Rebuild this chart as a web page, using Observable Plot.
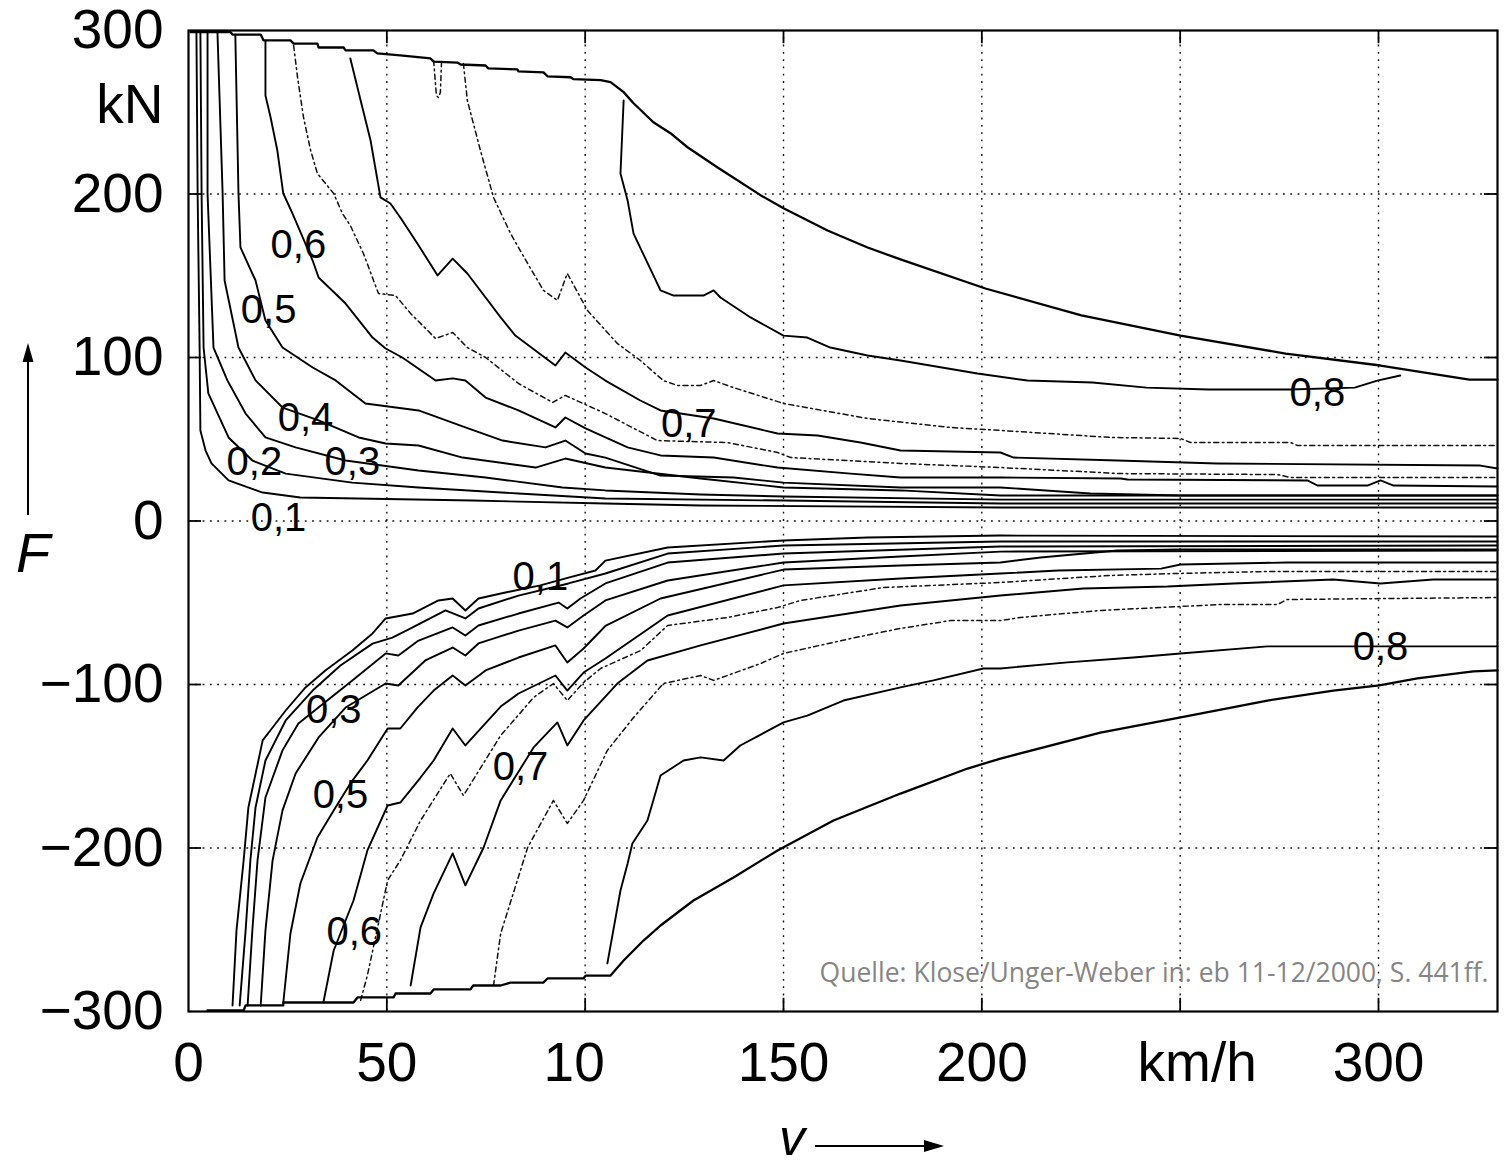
<!DOCTYPE html>
<html>
<head>
<meta charset="utf-8">
<script src="https://cdn.jsdelivr.net/npm/d3@7"></script>
<script src="https://cdn.jsdelivr.net/npm/@observablehq/plot@0.6"></script>
<style>
  html, body { margin: 0; padding: 0; background: #fff; }
  #chart svg { display: block; }
</style>
</head>
<body>
<div id="chart"></div>
<script>
// ---------- axes ----------
const xDomain = [0, 330];           // v in km/h
const yDomain = [-300, 300];        // F in kN
const xGrid = [50, 100, 150, 200, 250, 300];
const yGrid = [-200, -100, 0, 100, 200];
const xTickVals = [0, 50, 100, 150, 200, 250, 300];
const xTickLabels = ["0", "50", "10", "150", "200", "km/h", "300"];
const yTickVals = [300, 254, 200, 100, 0, -100, -200, -300];
const yTickLabels = ["300", "kN", "200", "100", "0", "\u2212100", "\u2212200", "\u2212300"];

// ---------- traction half (F > 0): [v, F] ----------
const topEnvelope = [[0.5,299],[10.6,299],[11.1,297.5],[18.2,297.5],[18.9,294],[25.7,294],[26.5,292],[32.5,292],[32.8,289.6],[39.1,289.6],[39.6,287.8],[46.6,287.8],[47.6,286],[53.4,284.8],[61,282.9],[61.8,281],[67.8,280.4],[68.6,279.2],[74.9,278.6],[75.6,276.8],[82.9,276.2],[83.2,275],[89.5,274.4],[90.5,272],[96.3,271.4],[97.1,270.2],[103.9,269.6],[106.4,268.4],[109.7,262.3],[112.2,255.5],[117.2,243.9],[121.5,237.2],[125.8,228.6],[133.3,216.4],[144.2,199.3],[150,191.3],[161.1,177.7],[171.2,167.3],[179.5,160],[200.9,142.2],[225.1,125.7],[250.1,113.4],[276.6,102.4],[300.5,95.1],[322.9,86.5],[330,86.5]];
const top01 = [[2,299.4],[2.3,200.3],[2.8,106.1],[3,55.4],[4.3,43.1],[5.8,35.2],[10.1,24.8],[18.7,17.4],[28.2,14.4],[71.6,12.5],[105.1,10.7],[129.1,9.5],[204.7,8.3],[330,8.3]];
const top02 = [[3,298.8],[3.3,200.3],[3.8,106.1],[5,78],[10.1,51.1],[16.1,37],[24.5,29],[41.3,23.5],[58,20.5],[83.2,16.8],[105.1,13.8],[150,12.5],[204.7,10.7],[330,10.7]];
const top03 = [[4.8,298.8],[4.8,200.3],[6.3,106.1],[9.8,86],[14.4,65.7],[19.4,51.1],[27,45],[39.6,37],[58,30.9],[74.9,26.6],[94.3,20.5],[105.1,18.7],[129.1,16.2],[150,15],[204.7,13.1],[330,13.1]];
const top04 = [[7.3,298.8],[8.6,200.3],[9.1,147.1],[12.6,106.1],[16.9,86],[23.7,69.4],[32.8,61.5],[42.9,51.1],[49.7,47.4],[58,46.2],[69.1,38.8],[87.5,32.7],[95,38.2],[105.1,32.7],[129.1,26],[150,20.5],[179.5,18.7],[204.7,15.6],[330,15.6]];
const top05 = [[11.8,297.5],[12.6,200.3],[13.1,167.3],[16.9,147.1],[19.4,122.6],[23.7,106.1],[31.3,93.9],[37.1,86],[44.6,71.9],[58,67.6],[69.8,57.2],[79.2,49.2],[90,45],[95,49.2],[100.1,41.3],[105.1,38.8],[119,27.8],[137.4,26.6],[150,23.5],[179.5,20.5],[204.7,20.5],[227.4,16.8],[250.1,15.6],[330,15.6]];
const top06 = [[19.4,293.6],[19.4,260.2],[20.7,246.8],[22.4,226.6],[23.9,200.3],[26.2,188.1],[31.3,159.3],[32.8,148.9],[39.6,133],[46.4,112.2],[49.7,105.5],[53.9,100],[62.3,85.9],[66.6,87.2],[69.8,85.9],[74.9,75.5],[83.2,67.6],[92.5,57.2],[95,63.3],[100.1,56.6],[110.7,45],[119,40.1],[132.4,38.8],[148.5,32.7],[166.9,29],[179.5,26.6],[204.7,26.6],[235,26],[236.7,25.4],[282.1,24.8],[284.6,21.7],[297.2,21.7],[300.5,24.8],[303.8,21.7],[330,21.1]];
const top065 = [[26.5,290.8],[27.5,271.2],[29,246.8],[30.8,226.6],[32.5,212.5],[36.6,200.3],[38.8,188.1],[40.8,180.7],[44.1,163.6],[47.9,139.1],[52.2,137.9],[56,126.9],[62.3,111.6],[66.6,115.3],[70.3,106.1],[74.9,100],[83.2,84.1],[91.8,72.5],[95,76.8],[105.1,65.7],[118.2,49.2],[135.9,48],[148.5,41.9],[151.8,38.8],[179.5,35.2],[204.7,32.7],[235,29],[274.5,28.4],[277.8,26.6],[330,26.6]];
const top07 = [[40.8,282.9],[43.4,257.2],[45.9,232.7],[48.4,197.9],[50.9,194.2],[53.4,185.6],[57.7,169.7],[62.8,150.2],[66.6,160.5],[70.3,151.4],[74.9,136.7],[78.7,124.5],[82.4,113.4],[92.5,95.1],[95,103],[100.1,93.9],[105.1,85.9],[113.9,73.7],[119,67.6],[132.4,62.7],[148.5,53.5],[158.6,52.3],[169.4,48],[179.5,43.1],[204.7,41.9],[208,38.8],[234.2,37],[259.4,35.2],[325.7,33.9],[330,32.1]];
const top075 = [[69.3,279.8],[70.3,257.2],[73.6,226.6],[76.9,197.9],[81.2,175.8],[85.5,157.5],[89.5,141],[93,134.9],[95.5,151.4],[100.6,128.7],[108.1,108.6],[113.9,98.2],[119.7,85.9],[123.3,82.9],[129.1,82.9],[132.4,85.9],[137.4,81.6],[150,71.9],[171.2,62.7],[192.1,57.2],[204.7,55.4],[232.4,51.1],[250.1,50.5],[252.6,48],[277.8,48],[279.6,46.2],[330,46.2]];
const topIsland = [[61.8,281.6],[62.5,260.2],[63,259],[63.5,262.1],[63.8,281.6]];
const top08 = [[109.7,257.2],[108.9,212.5],[110.7,196],[112.2,175.8],[119,141],[122.3,137.9],[129.8,137.9],[132.4,141],[134.1,136.7],[141.7,124.5],[150,113.4],[156,112.2],[161.8,106.1],[171.2,101.2],[179.5,98.2],[198.9,90.2],[211.5,85.9],[227.9,84.7],[241.5,81.6],[257.1,80.4],[277.8,80.4],[294,81.6],[299.7,85.9],[305.5,89]];

// ---------- braking half (F < 0): [v, F] ----------
const bottomEnvelope = [[4.8,-299.4],[13.9,-299.4],[14.4,-296.3],[23.9,-296.3],[23.9,-294.5],[41.6,-294.5],[42.6,-291.4],[51.7,-291.4],[52.2,-289],[61,-289],[61.8,-286.5],[71.1,-286.5],[71.8,-284.1],[78.7,-284.1],[81.2,-282.3],[89.5,-282.3],[90.5,-279.8],[99.6,-279.8],[100.1,-278],[106.4,-278],[109.7,-268.8],[114.7,-256.6],[119,-247.4],[127.3,-232.1],[137.4,-218],[148.5,-201.5],[162.6,-183.2],[179.5,-166.7],[196.4,-151.4],[204.7,-145.3],[229.9,-129.4],[249.8,-120.2],[272,-109.8],[288.6,-103.7],[300.2,-100.6],[309.8,-96.3],[323.9,-92],[330,-91.4]];
const bot01 = [[11.1,-296.3],[12.1,-250.4],[13.9,-207.6],[15.1,-175.2],[18.7,-134.2],[21.2,-126.3],[24.5,-115.9],[29.5,-101.8],[34.5,-91.4],[41.3,-79.2],[46.4,-68.8],[49.7,-59.6],[56.5,-56.6],[63,-48.6],[66.6,-47.4],[69.8,-54.7],[73.1,-47.4],[79.9,-43.7],[88.7,-39.4],[95.8,-34.6],[102.6,-30.3],[105.1,-24.2],[120.8,-16.2],[150,-11.9],[171.2,-10.1],[204.7,-8.9],[330,-9.5]];
const bot02 = [[12.9,-296.3],[14.4,-250.4],[15.6,-207.6],[16.9,-175.2],[19.4,-146.5],[24.5,-122],[31.3,-103.7],[38.3,-88.4],[46.4,-75],[51.4,-71.3],[56.5,-65.1],[64.8,-54.7],[69.8,-59.6],[73.1,-53.5],[83.2,-45.6],[95.8,-38.2],[105.1,-32.1],[120.8,-19.9],[150,-15],[204.7,-12.5],[330,-12.5]];
const bot03 = [[14.9,-296.3],[16.1,-250.4],[17.4,-207.6],[19.4,-169.1],[23.7,-140.3],[27.7,-123.8],[41.3,-97.5],[49.7,-81],[52.9,-82.3],[58,-73.1],[66.6,-65.1],[69.8,-70],[73.1,-63.9],[83.2,-56.6],[93.3,-49.9],[95.5,-53.5],[98.8,-47.4],[105.1,-38.2],[120.8,-25.4],[150,-19.9],[204.7,-15.6],[330,-15]];
const bot04 = [[18.2,-296.3],[19.4,-250.4],[21.2,-207.6],[23.7,-177],[27,-154.4],[32.8,-132.4],[39.6,-114.1],[49.7,-99.4],[52.9,-100.6],[59.7,-85.3],[66.6,-77.4],[69.8,-82.3],[73.1,-74.9],[83.2,-67],[92.5,-60.9],[95.5,-65.1],[99.6,-57.8],[105.1,-48.6],[120.8,-36.4],[150,-25.4],[179.5,-21.7],[204.7,-18.7],[330,-18.1]];
const bot05 = [[23.9,-294.5],[25.7,-252.3],[28.2,-221.7],[32.5,-193.6],[36.6,-177],[40.8,-160.5],[45.1,-146.5],[50.2,-126.9],[53.4,-126.9],[57.7,-114.1],[61.8,-103.7],[66.6,-94.5],[69.8,-100.6],[74.9,-91.4],[83.2,-83.5],[92.5,-76.1],[95.5,-86.5],[99.6,-78],[105.1,-64.2],[119,-47.4],[150,-29.7],[179.5,-27.2],[204.7,-25.4],[214.8,-22.3],[234.2,-18],[250.1,-17.4],[330,-17.4]];
const bot06 = [[34,-294.5],[36.6,-262.7],[41.6,-232.1],[45.1,-201.5],[50.2,-174],[53.4,-172.2],[58.5,-156.9],[61.8,-146.5],[66.6,-126.9],[69.8,-137.3],[78.7,-113.5],[83.2,-105.5],[92.5,-94.5],[95.5,-103.7],[99.6,-92.7],[105.1,-84.1],[120.8,-57.8],[150,-39.4],[179.5,-35.2],[204.7,-32.1],[219.2,-30.3],[245.2,-29.1],[250.1,-26.6],[277,-25.4],[330,-25.4]];
const bot065 = [[43.4,-293.2],[45.1,-277.9],[50.2,-219.8],[53.4,-207.6],[58.5,-183.2],[66,-154.4],[69.3,-167.9],[78.7,-131.2],[87,-107.9],[92,-99.4],[95.5,-109.8],[99.6,-98.8],[103.9,-90.2],[114,-79.2],[120.8,-63.9],[135.9,-59],[148.5,-52.9],[154.3,-48.6],[175.2,-40.7],[204.7,-37.6],[232.4,-33.3],[249.3,-32.1],[272,-30.9],[330,-30.9]];
const bot07 = [[56,-284.1],[58.5,-248.6],[61.8,-227.8],[66.6,-203.3],[69.8,-222.9],[74.4,-199.7],[78.7,-170.9],[87,-138.5],[93,-123.2],[95.5,-137.3],[99.6,-122],[108.1,-99.4],[115.7,-85.3],[129.1,-76.1],[150,-62.7],[179.5,-51.7],[204.7,-45.6],[225.6,-41.3],[246.8,-40.1],[263.4,-38.2],[288.6,-35.8],[300.5,-38.2],[313.8,-35.8],[330,-35.8]];
const bot075 = [[76.9,-284.1],[78.7,-252.3],[85.5,-199.7],[92,-170.9],[95.5,-185],[99.6,-170.9],[105.6,-140.3],[112.2,-120.2],[119.7,-99.4],[129.1,-94.5],[132.4,-97.5],[144.2,-87.2],[150,-81],[166.9,-71.9],[179.5,-65.7],[192.1,-60.9],[204.7,-60.9],[209.7,-59],[229.9,-54.7],[245,-52.9],[260.1,-51.1],[274.5,-51.1],[277,-48],[330,-46.8]];
const bot08 = [[105.6,-270.6],[108.9,-226],[110.7,-209.5],[111.9,-197.2],[115.7,-183.2],[119,-155.7],[124.8,-146.5],[129.1,-144.6],[134.9,-146.5],[139.1,-137.3],[150,-123.2],[156,-119],[165.1,-109.8],[179.5,-101.8],[187.8,-97.5],[200.4,-90.2],[204.7,-90.2],[221.6,-86.5],[238.2,-83.5],[250.1,-81],[272,-76.7],[292.2,-76.7],[330,-76.7]];

// ---------- contour labels ----------
const labelText = ["0,6","0,5","0,4","0,2","0,3","0,1","0,7","0,8","0,1","0,3","0,5","0,6","0,7","0,8"];
const labelV    = [27.7, 20.2, 29.5, 16.6, 41.3, 22.7, 126.1, 284.6, 88.7, 36.6, 38.3, 41.8, 83.7, 300.5];
const labelF    = [168.5, 128.7, 62.7, 35.8, 35.8, 1.5, 59, 78, -34.6, -115.9, -167.9, -251.7, -150.8, -77.4];

const caption = "Quelle: Klose/Unger-Weber in: eb 11-12/2000, S. 441ff.";

// ---------- build ----------
const solidSeries = [top01, top02, top03, top04, top05, top06, top07, top08,
                     bot01, bot02, bot03, bot04, bot05, bot06, bot07, bot08];
const dashSeries = [top065, top075, topIsland, bot065, bot075];
const envelopes = [topEnvelope, bottomEnvelope];

const FONT = "'Liberation Sans', Arial, Helvetica, sans-serif";
const px = d => d[0], py = d => d[1];

const marks = [];
// dotted grid
marks.push(Plot.ruleX(xGrid, {stroke: "#111", strokeWidth: 1.4, strokeDasharray: "1.8,5.5"}));
marks.push(Plot.ruleY(yGrid, {stroke: "#111", strokeWidth: 1.4, strokeDasharray: "1.8,5.5"}));
// inward ticks on all four sides
const tx = (xDomain[1] - xDomain[0]) * 0.01;
const ty = (yDomain[1] - yDomain[0]) * 0.0135;
marks.push(Plot.ruleX(xGrid, {y1: yDomain[0], y2: yDomain[0] + ty, stroke: "#000", strokeWidth: 1.8}));
marks.push(Plot.ruleX(xGrid, {y1: yDomain[1], y2: yDomain[1] - ty, stroke: "#000", strokeWidth: 1.8}));
marks.push(Plot.ruleY(yGrid, {x1: xDomain[0], x2: xDomain[0] + tx, stroke: "#000", strokeWidth: 1.8}));
marks.push(Plot.ruleY(yGrid, {x1: xDomain[1], x2: xDomain[1] - tx, stroke: "#000", strokeWidth: 1.8}));

for (const s of dashSeries) {
  marks.push(Plot.line(s, {x: px, y: py, stroke: "#111", strokeWidth: 1.5, strokeDasharray: "5,3.5,1.8,3.5"}));
}
for (const s of solidSeries) {
  marks.push(Plot.line(s, {x: px, y: py, stroke: "#000", strokeWidth: 1.9}));
}
for (const s of envelopes) {
  marks.push(Plot.line(s, {x: px, y: py, stroke: "#000", strokeWidth: 2.3}));
}
marks.push(Plot.frame({stroke: "#000", strokeWidth: 2.2}));

// contour labels
marks.push(Plot.text(labelText, {
  x: (d, i) => labelV[i], y: (d, i) => labelF[i], text: d => d,
  fontSize: 40, fontFamily: FONT, fill: "#000"
}));

// tick labels
const nudge = {"10": -11, "km/h": 17};
const plainX = xTickVals.map((v, i) => ({v, t: xTickLabels[i]})).filter(d => !(d.t in nudge));
const nudgedX = xTickVals.map((v, i) => ({v, t: xTickLabels[i]})).filter(d => d.t in nudge);
marks.push(Plot.text(plainX, {x: "v", text: "t", frameAnchor: "bottom", lineAnchor: "middle", dy: 52,
  fontSize: 55, fontFamily: FONT, fill: "#000"}));
for (const d of nudgedX) {
  marks.push(Plot.text([d], {x: "v", text: "t", frameAnchor: "bottom", lineAnchor: "middle", dy: 52, dx: nudge[d.t],
    fontSize: 55, fontFamily: FONT, fill: "#000"}));
}
marks.push(Plot.text(yTickVals.map((v, i) => ({v, t: yTickLabels[i]})), {
  y: "v", text: "t", frameAnchor: "left", lineAnchor: "middle", dx: -25, textAnchor: "end",
  fontSize: 55, fontFamily: FONT, fill: "#000"
}));
// source caption
marks.push(Plot.text([caption], {text: d => d, frameAnchor: "bottom-right", lineAnchor: "middle", dx: -9, dy: -38,
  textAnchor: "end", fontSize: 26.5, fontFamily: "'Open Sans', sans-serif", fill: "#858585"}));

const chart = Plot.plot({
  width: 1504,
  height: 1173,
  marginLeft: 188,
  marginRight: 7,
  marginTop: 30,
  marginBottom: 162,
  x: {domain: xDomain, axis: null},
  y: {domain: yDomain, axis: null},
  style: {background: "#fff", overflow: "visible"},
  marks
});
document.getElementById("chart").appendChild(chart);

// axis titles with arrows
const svg = d3.select(chart);
const g = svg.append("g").attr("fill", "#000").attr("stroke", "none");
// F with upward arrow
g.append("line").attr("x1", 28).attr("x2", 28).attr("y1", 515).attr("y2", 360)
  .attr("stroke", "#000").attr("stroke-width", 2);
g.append("path").attr("d", "M28,343 L22.5,362 L33.5,362 Z");
g.append("text").attr("x", 33).attr("y", 557).attr("text-anchor", "middle")
  .attr("dominant-baseline", "middle").attr("font-family", FONT).attr("font-size", 56)
  .attr("font-style", "italic").text("F");
// v with right arrow
g.append("text").attr("x", 792).attr("y", 1141).attr("text-anchor", "middle")
  .attr("dominant-baseline", "middle").attr("font-family", FONT).attr("font-size", 52)
  .attr("font-style", "italic").text("v");
g.append("line").attr("x1", 815).attr("x2", 925).attr("y1", 1146).attr("y2", 1146)
  .attr("stroke", "#000").attr("stroke-width", 2);
g.append("path").attr("d", "M944,1146 L924,1140 L924,1152 Z");
</script>
</body>
</html>
